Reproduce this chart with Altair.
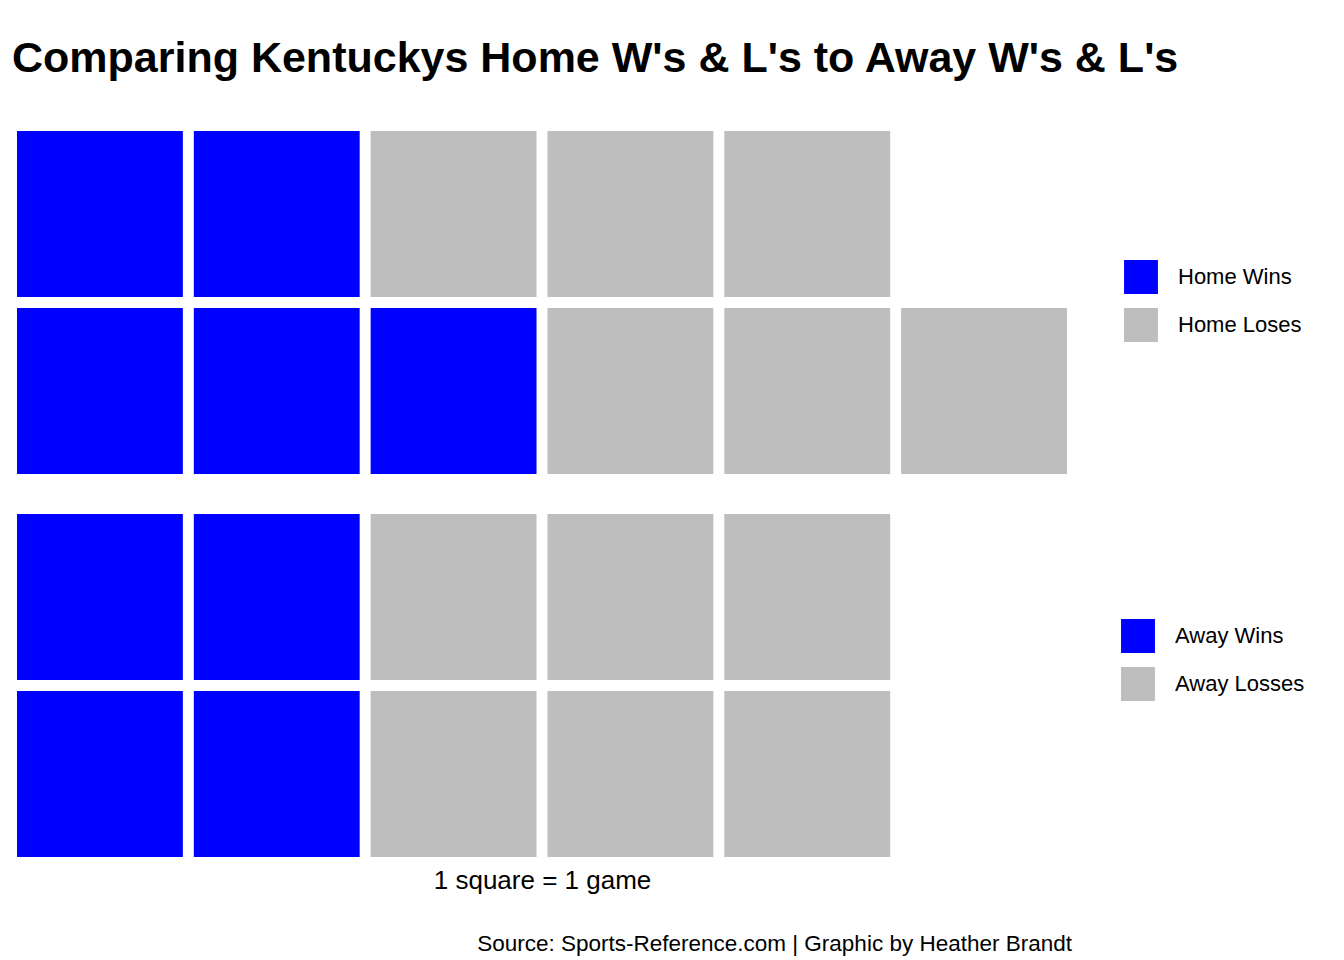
import pandas as pd
import altair as alt

home_labels = ["Home Wins", "Home Loses"]
home_counts = [5, 6]
away_labels = ["Away Wins", "Away Losses"]
away_counts = [4, 6]
colors = ["#0000FF", "#BEBEBE"]
n_rows = 2
n_cols = 6

FONT = "Liberation Sans"


def waffle_frame(labels, counts):
    rows = []
    i = 0
    for lab, n in zip(labels, counts):
        for _ in range(n):
            rows.append({"cat": lab, "col": i // n_rows, "row": i % n_rows})
            i += 1
    return pd.DataFrame(rows)


def waffle(labels, counts, legend_x, legend_y, x_title=None):
    df = waffle_frame(labels, counts)
    x_axis = alt.Axis(labels=False, ticks=False, domain=False, grid=False,
                      title=x_title, titleFontSize=26,
                      titleFontWeight="normal", titleFont=FONT, titlePadding=10) if x_title else None
    return alt.Chart(df, width=1050, height=343).mark_rect().encode(
        alt.X("col:O", scale=alt.Scale(domain=list(range(n_cols)), paddingInner=0.062, paddingOuter=0), axis=x_axis),
        alt.Y("row:O", scale=alt.Scale(domain=[1, 0], paddingInner=0.062, paddingOuter=0), axis=None),
        alt.Color("cat:N", scale=alt.Scale(domain=labels, range=colors),
                  legend=alt.Legend(title=None, orient="none", legendX=legend_x, legendY=legend_y,
                                    symbolType="square", symbolSize=1150, symbolStrokeWidth=0,
                                    symbolOpacity=1, labelFontSize=22, labelFont=FONT,
                                    labelOffset=20, rowPadding=14)),
    )


home = waffle(home_labels, home_counts, 1107, 129)
away = waffle(away_labels, away_counts, 1104, 105, x_title="1 square = 1 game")

source = alt.Chart(pd.DataFrame({"t": ["Source: Sports-Reference.com | Graphic by Heather Brandt"]}),
                   width=1050, height=10).mark_text(
    align="right", fontSize=22.5, font=FONT, baseline="middle"
).encode(text="t:N", x=alt.value(1055), y=alt.value(-28))

chart = alt.vconcat(home, away, source, spacing=40).resolve_scale(color="independent").properties(
    title=alt.TitleParams("Comparing Kentuckys Home W's & L's to Away W's & L's", anchor="start",
                          fontSize=43, font=FONT, fontWeight="bold", offset=50, dx=-5),
    padding={"left": 4, "top": 30, "right": 5, "bottom": 5},
).configure_view(stroke=None).configure_concat(spacing=40)

chart.save("out.html", embed_options={"renderer": "svg", "actions": False})
